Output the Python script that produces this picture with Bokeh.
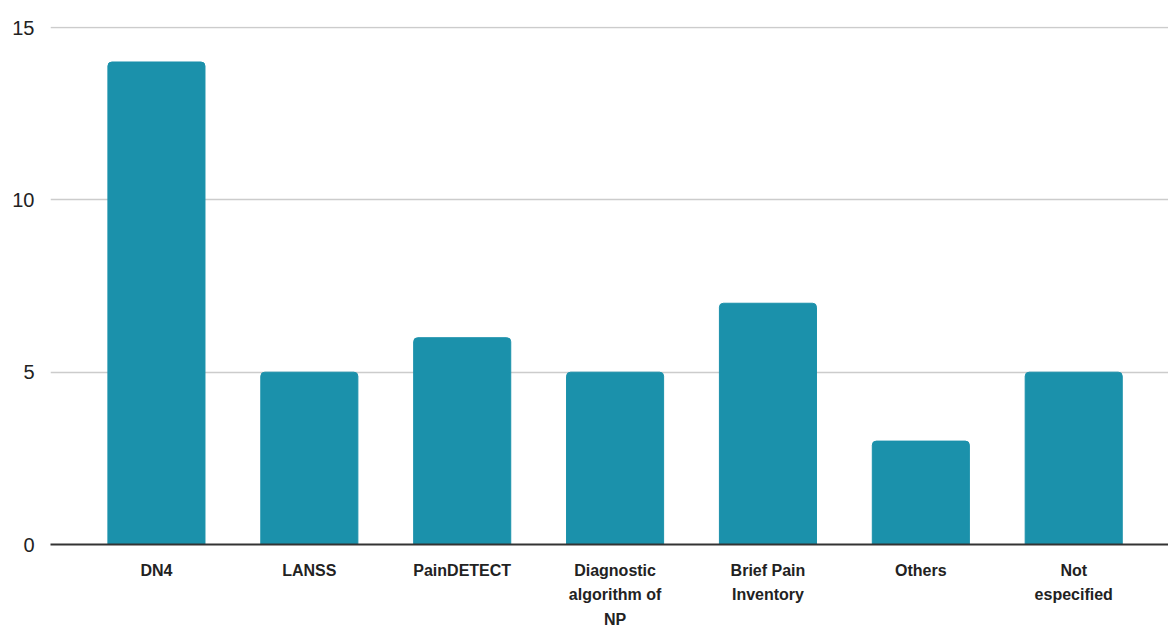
from bokeh.plotting import figure
from bokeh.embed import file_html
from bokeh.resources import INLINE
from bokeh.models import FixedTicker, Range1d

categories = ["DN4", "LANSS", "PainDETECT", "Diagnostic\nalgorithm of\nNP",
              "Brief Pain\nInventory", "Others", "Not\nespecified"]
counts = [14, 5, 6, 5, 7, 3, 5]
y_ticks = [0, 5, 10, 15]

xs = list(range(len(categories)))

p = figure(width=1168, height=630, output_backend="svg", toolbar_location=None,
           x_range=Range1d(-0.693, len(categories) - 0.38),
           y_range=Range1d(0, 15.03),
           min_border_left=50, min_border_right=0, min_border_top=26, min_border_bottom=85)
p.outline_line_color = None
p.background_fill_color = "white"

p.vbar(x=xs, top=counts, width=0.635, color="#1b91ab", line_color="#1b91ab",
       border_radius=[4, 4, 0, 0])

p.xaxis.ticker = FixedTicker(ticks=xs)
p.xaxis.major_label_overrides = {i: c for i, c in enumerate(categories)}
p.xaxis.major_tick_line_color = None
p.xaxis.minor_tick_line_color = None
p.xaxis.axis_line_color = "#333333"
p.xaxis.axis_line_width = 2
p.xaxis.major_label_text_font = "Liberation Sans"
p.xaxis.major_label_text_font_style = "bold"
p.xaxis.major_label_text_font_size = "16px"
p.xaxis.major_label_text_line_height = 1.45
p.xaxis.major_label_text_color = "#222222"
p.xaxis.major_label_standoff = 11
p.xgrid.grid_line_color = None

p.yaxis.ticker = FixedTicker(ticks=y_ticks)
p.yaxis.axis_line_color = None
p.yaxis.major_tick_line_color = None
p.yaxis.minor_tick_line_color = None
p.yaxis.major_label_text_font = "Liberation Sans"
p.yaxis.major_label_text_font_size = "20px"
p.yaxis.major_label_text_color = "#222222"
p.yaxis.major_label_standoff = 10
p.ygrid.grid_line_color = "#cccccc"
p.ygrid.grid_line_width = 1.5

open("out.html", "w").write(file_html(p, INLINE))
